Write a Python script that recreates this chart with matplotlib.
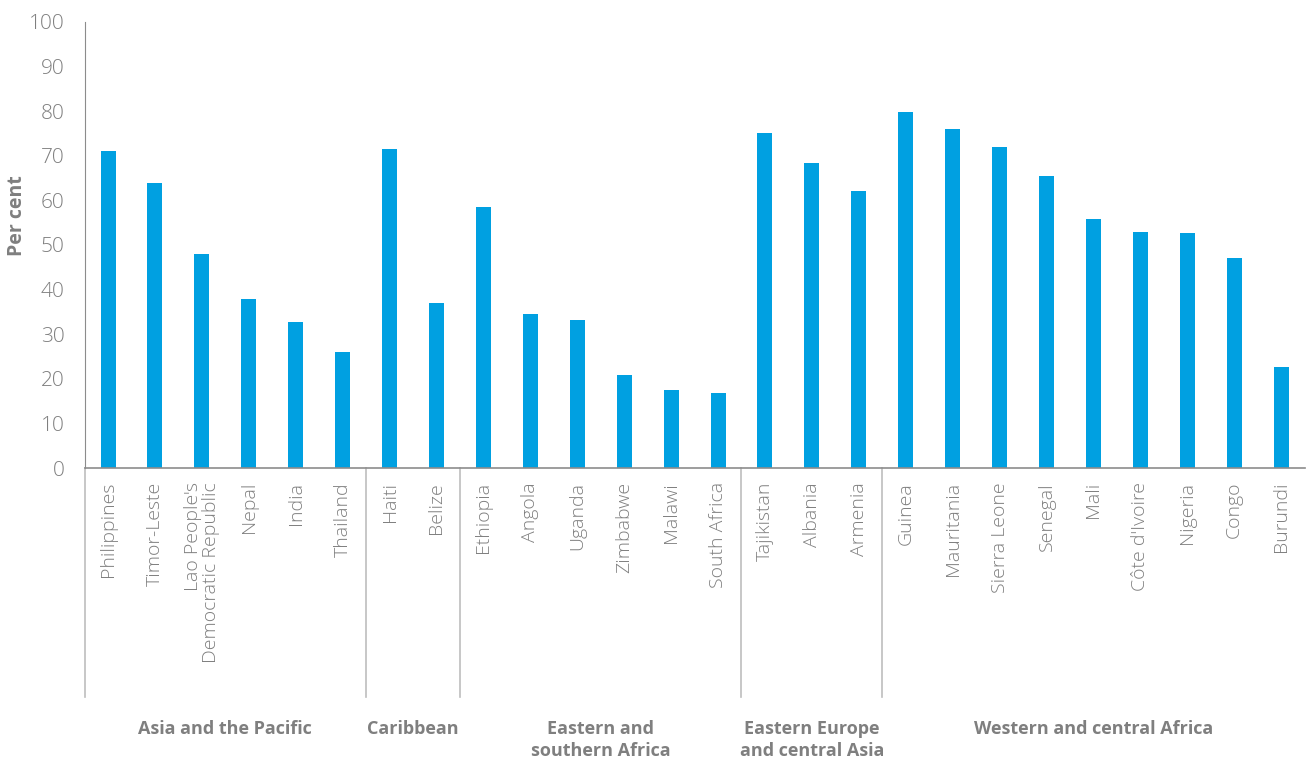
import numpy as np
import matplotlib.pyplot as plt

# data
countries = ['Philippines', 'Timor-Leste', "Lao People's\nDemocratic Republic", 'Nepal', 'India', 'Thailand',
             'Haiti', 'Belize',
             'Ethiopia', 'Angola', 'Uganda', 'Zimbabwe', 'Malawi', 'South Africa',
             'Tajikistan', 'Albania', 'Armenia',
             'Guinea', 'Mauritania', 'Sierra Leone', 'Senegal', 'Mali', "Côte d'Ivoire", 'Nigeria', 'Congo', 'Burundi']
values = [71.1, 63.9, 48.0, 37.9, 32.7, 26.0,
          71.5, 36.9,
          58.5, 34.6, 33.2, 20.8, 17.5, 16.8,
          75.1, 68.4, 62.0,
          79.8, 75.9, 72.0, 65.4, 55.9, 52.9, 52.7, 47.0, 22.7]
regions = ['Asia and the Pacific', 'Caribbean', 'Eastern and\nsouthern Africa',
           'Eastern Europe\nand central Asia', 'Western and central Africa']
region_sizes = [6, 2, 6, 3, 9]

blue = '#00A0E1'
grey = '#7f7f7f'
plt.rcParams['font.family'] = ['Open Sans', 'DejaVu Sans']

fig = plt.figure(figsize=(13.09, 7.63), dpi=100)
ax = fig.add_axes([0.0646, 0.3866, 0.932, 0.5846])

x = np.arange(len(values))
ax.bar(x, values, width=0.32, color=blue)
ax.set_xlim(-0.5, len(values) - 0.5)
ax.set_ylim(0, 100)
ax.set_yticks(np.arange(0, 101, 10))
ax.tick_params(axis='y', length=0, pad=14.5, labelsize=15, labelcolor=grey)
ax.set_xticks(x)
ax.set_xticklabels(countries, rotation=90, ha='center', va='top', multialignment='right',
                   linespacing=1.05)
ax.tick_params(axis='x', length=0, pad=10, labelsize=14, labelcolor=grey)
for lab in ax.get_xticklabels() + ax.get_yticklabels():
    lab.set_fontweight('light')

for s in ['top', 'right']:
    ax.spines[s].set_visible(False)
ax.spines['left'].set_color('#8c8c8c')
ax.spines['bottom'].set_color('#8c8c8c')
ax.spines['bottom'].set_linewidth(1.2)

ax.set_ylabel('Per cent', fontsize=14, fontweight='bold', color=grey)
ax.yaxis.set_label_coords(-0.047, 0.565)

# group separators and region labels below the axis
trans = ax.get_xaxis_transform()
edges = np.concatenate([[0], np.cumsum(region_sizes)]) - 0.5
for e in edges[:-1]:
    ax.plot([e, e], [0, -0.513], transform=trans, color='#bdbdbd', lw=1.2, clip_on=False)
for i, r in enumerate(regions):
    c = (edges[i] + edges[i + 1]) / 2
    ax.text(c, -0.565, r, transform=trans, ha='center', va='top', fontsize=13,
            fontweight='bold', color=grey, linespacing=1.3)

fig.savefig('out.png', dpi=100)
